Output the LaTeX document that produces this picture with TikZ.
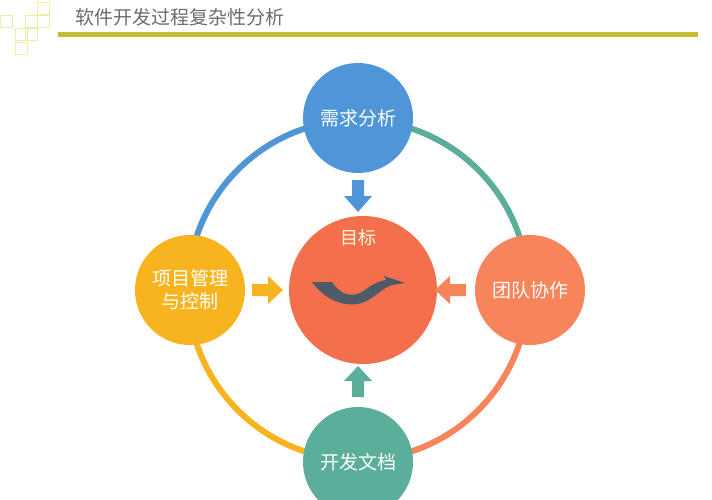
\documentclass[tikz,border=0pt]{standalone}
\usepackage{fontspec}
\setmainfont{Noto Sans CJK SC}
\begin{document}
\begin{tikzpicture}[x=1pt,y=-1pt,
  sq/.style={draw=yellow!55!olive!30, line width=0.8pt},
  ring/.style={line width=6pt},
  big/.style={circle, minimum size=110pt, inner sep=0pt, text=white, font=\fontsize{19}{23}\selectfont, align=center}]
\useasboundingbox (0,0) rectangle (712,500);
\definecolor{cb}{HTML}{4E96D8}
\definecolor{cg}{HTML}{5BAE9A}
\definecolor{co}{HTML}{F7845A}
\definecolor{cy}{HTML}{F8B41E}
\definecolor{cr}{HTML}{F4704C}
\definecolor{bar}{HTML}{C6BE2E}
\definecolor{sw}{HTML}{4D5A68}
% decorations
\foreach \x/\y in {37/2,25/15,37/15,15/28,25/28,15/42,0/15}
  \draw[sq] (\x,\y) rectangle ++(12,12);
\node[anchor=west, text=gray!85!black, font=\fontsize{19}{22}\selectfont] (title) at (72,17) {软件开发过程复杂性分析};
\fill[bar] (58,32) rectangle (698,37);
% ring
\draw[ring, cb] (358,120) arc[start angle=90, end angle=180, x radius=170, y radius=-170];
\draw[ring, cg] (358,120) arc[start angle=90, end angle=0, x radius=170, y radius=-170];
\draw[ring, co] (528,290) arc[start angle=0, end angle=-90, x radius=170, y radius=-170];
\draw[ring, cy] (188,290) arc[start angle=180, end angle=270, x radius=170, y radius=-170];
% circles
\node[big, fill=cb] (req) at (358,118) {需求分析};
\node[big, fill=cy] (pm) at (190,290) {项目管理\\与控制};
\node[big, fill=co] (team) at (530,290) {团队协作};
\node[big, fill=cg] (doc) at (358,462) {开发文档};
\node[circle, minimum size=148pt, inner sep=0pt, fill=cr] (goal) at (363,290) {};
\node[text=white!85!yellow, font=\fontsize{18}{22}\selectfont] (gl) at (358,238) {目标};
% block arrows
\fill[cb] (352,180) -- (364,180) -- (364,196) -- (372,196) -- (358,212) -- (344,196) -- (352,196) -- cycle;
\fill[cg] (352,397) -- (364,397) -- (364,381) -- (372,381) -- (358,366) -- (344,381) -- (352,381) -- cycle;
\fill[cy] (252,284) -- (268,284) -- (268,276) -- (283,290) -- (268,304) -- (268,296) -- (252,296) -- cycle;
\fill[co] (466,284) -- (450,284) -- (450,276) -- (435,290) -- (450,304) -- (450,296) -- (466,296) -- cycle;
% swoosh
\fill[sw] (312,282) -- (332,282) .. controls (340,294) and (350,298) .. (362,292)
  .. controls (370,286) and (378,281) .. (386,280) -- (384,276) -- (405,283) -- (392,285)
  .. controls (382,288) and (375,298) .. (362,303) .. controls (345,308) and (325,300) .. (312,282) -- cycle;
\end{tikzpicture}
\end{document}
